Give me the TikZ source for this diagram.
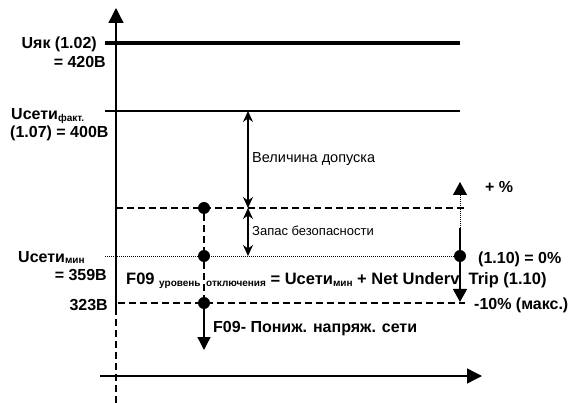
\documentclass[tikz,border=0pt]{standalone}
\usepackage{fontspec}
\setmainfont{Liberation Sans}
\usetikzlibrary{arrows.meta}
\newcommand\sbs[1]{\raisebox{-0.2ex}{\fontsize{10}{11}\selectfont #1}}
\begin{document}
\begin{tikzpicture}[x=1pt,y=-1pt,
  lbl/.style={inner sep=0pt,font=\bfseries\fontsize{16}{18}\selectfont},
  txt/.style={inner sep=0pt,font=\fontsize{14.5}{16}\selectfont},
  small/.style={inner sep=0pt,font=\fontsize{13}{15}\selectfont},
  dsh/.style={line width=1.2pt,dash pattern=on 7pt off 4pt},
  dot/.style={line width=0.8pt,dash pattern=on 1pt off 1pt},
  big/.style={-{Triangle[length=15pt,width=15pt]}},
  sharp/.style={{Stealth[length=11pt,width=10pt]}-{Stealth[length=11pt,width=10pt]}},
  pt/.style={circle,fill=black,inner sep=0pt,minimum size=12pt}]
\useasboundingbox (0,0) rectangle (570,403);
% axes
\coordinate (ytop) at (116,8);
\coordinate (ybot) at (116,308);
\coordinate (yend) at (116,403);
\coordinate (xleft) at (100,376);
\coordinate (xright) at (482,376);
\draw[line width=1.4pt,big] (ybot) -- (ytop);
\draw[dsh] (ybot) -- (yend);
\draw[line width=1.4pt,big] (xleft) -- (xright);
% levels
\draw[line width=4pt] (105,43) -- (460,43);
\draw[line width=1.3pt] (105,111) -- (460,111);
\draw[dsh] (116,208) -- (467,208);
\draw[dot] (105,256) -- (460,256);
\draw[dsh] (118,303) -- (465,303);
% trip points
\node[pt] (d1) at (204,208) {};
\node[pt] (d2) at (204,256) {};
\node[pt] (d3) at (204,303) {};
\coordinate (d4) at (204,350);
\draw[dsh] (d1) -- (d2) -- (d3);
\draw[line width=1.4pt,-{Triangle[length=13pt,width=13pt]}] (d3) -- (d4);
% tolerance
\coordinate (t1) at (248,111);
\coordinate (t2) at (248,208);
\coordinate (t3) at (248,256);
\draw[line width=1.4pt,sharp] (t1) -- (t2);
\draw[line width=1.4pt,sharp] (t2) -- (t3);
% percent scale
\node[pt] (p0) at (460,256) {};
\coordinate (pup) at (460,182);
\coordinate (pmid) at (460,228);
\coordinate (plow) at (460,302);
\draw[dot,-{Triangle[length=13pt,width=14pt]}] (pmid) -- (pup);
\draw[line width=1.4pt,-{Triangle[length=13pt,width=14pt]}] (pmid) -- (plow);
% labels
\node[lbl,anchor=base east] (uyk) at (97,49) {Uяк (1.02)};
\node[lbl,anchor=base east] (uykv) at (106,68) {= 420B};
\node[lbl,anchor=base west] (uf) at (11,120) {Uсети\sbs{факт.}};
\node[lbl,anchor=base west] (ufv) at (10,138) {(1.07) = 400B};
\node[lbl,anchor=base west] (um) at (18,262) {Uсети\sbs{мин}};
\node[lbl,anchor=base east] (umv) at (107,280) {= 359B};
\node[lbl,anchor=base east] (u323) at (108,310) {323B};
\node[txt,anchor=base west] (tol) at (252,163) {Величина допуска};
\node[small,anchor=base west] (safe) at (252,236) {Запас безопасности};
\node[lbl,anchor=base west,font=\bfseries\fontsize{16.5}{18}\selectfont] (trip) at (126,285) {F09 \sbs{уровень\ \ отключения} = Uсети\sbs{мин} + Net Underv\ \ Trip (1.10)};
\node[lbl,anchor=base west] (f09) at (213,332) {F09- Пониж. напряж. сети};
\node[lbl,anchor=base west] (plus) at (485,193) {+ \%};
\node[lbl,anchor=base west] (zero) at (478,264) {(1.10) = 0\%};
\node[lbl,anchor=base west] (minus) at (474,309) {-10\% (макс.)};
\end{tikzpicture}
\end{document}
